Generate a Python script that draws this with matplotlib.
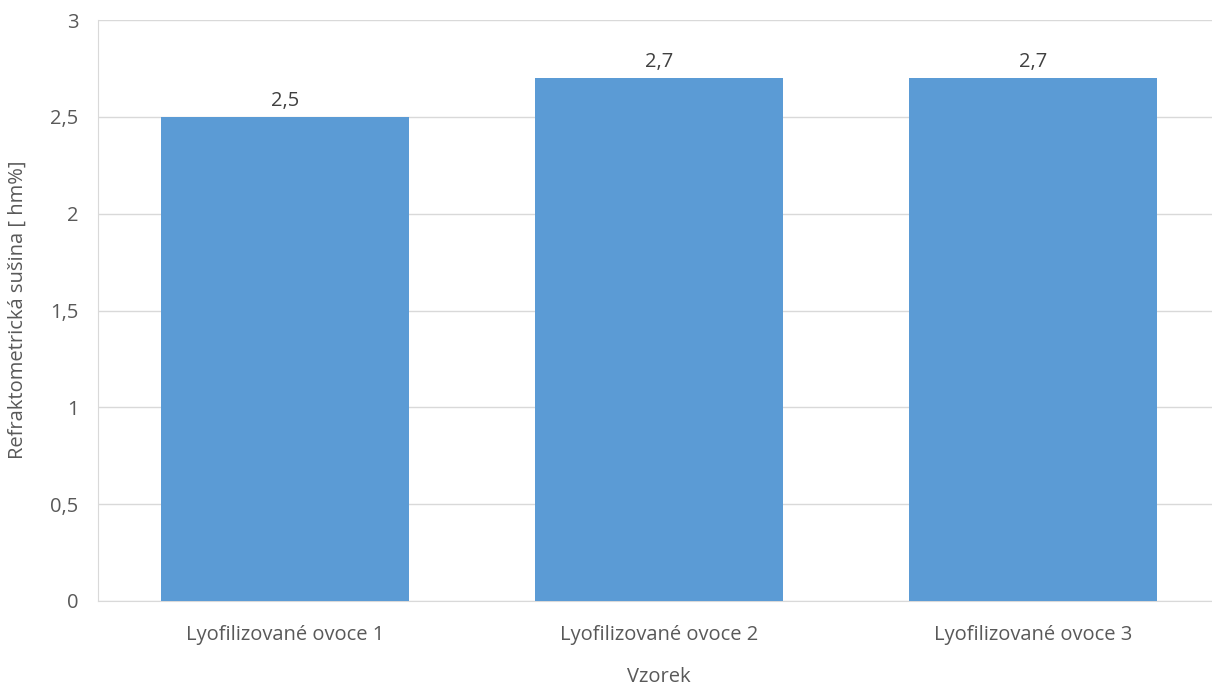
import matplotlib.pyplot as plt
from matplotlib.ticker import FuncFormatter

# Samples and measured refractometric dry matter
samples = ["Lyofilizované ovoce 1", "Lyofilizované ovoce 2", "Lyofilizované ovoce 3"]
values = [2.5, 2.7, 2.7]
yticks = [0, 0.5, 1, 1.5, 2, 2.5, 3]

plt.rcParams['font.family'] = ['Open Sans', 'DejaVu Sans']
text_col = "#595959"
grid_col = "#d9d9d9"
fs = 14.5

fig = plt.figure(figsize=(12.12, 6.89), dpi=100)
# plot area runs slightly past the right edge of the image
ax = fig.add_axes([98 / 1212, 1 - 601 / 689, 1122 / 1212, 581 / 689])

x = range(len(samples))
bars = ax.bar(x, values, width=0.665, color="#5b9bd5", zorder=3)

def comma(v, pos=None):
    s = f"{v:g}"
    return s.replace(".", ",")

for b, v in zip(bars, values):
    ax.text(b.get_x() + b.get_width() / 2, v + 0.03, comma(v),
            ha="center", va="bottom", fontsize=fs, color="#404040")

ax.set_xlim(-0.5, len(samples) - 0.5)
ax.set_ylim(0, 3)
ax.set_yticks(yticks)
ax.yaxis.set_major_formatter(FuncFormatter(comma))
ax.set_xticks(list(x))
ax.set_xticklabels(samples)
ax.tick_params(axis="both", length=0, labelsize=fs, colors=text_col)
ax.tick_params(axis="y", pad=14)
ax.tick_params(axis="x", pad=17)

ax.grid(axis="y", color=grid_col, linewidth=1, zorder=0)
for side in ["top", "right"]:
    ax.spines[side].set_visible(False)
ax.spines["left"].set_color(grid_col)
ax.spines["bottom"].set_color(grid_col)

ax.set_xlabel("Vzorek", fontsize=fs, color=text_col, labelpad=16)
fig.text(18 / 1212, 1 - 310 / 689, "Refraktometrická sušina [ hm%]", rotation=90,
         ha="center", va="center", fontsize=fs, color=text_col)

fig.savefig("out.png", dpi=100)
